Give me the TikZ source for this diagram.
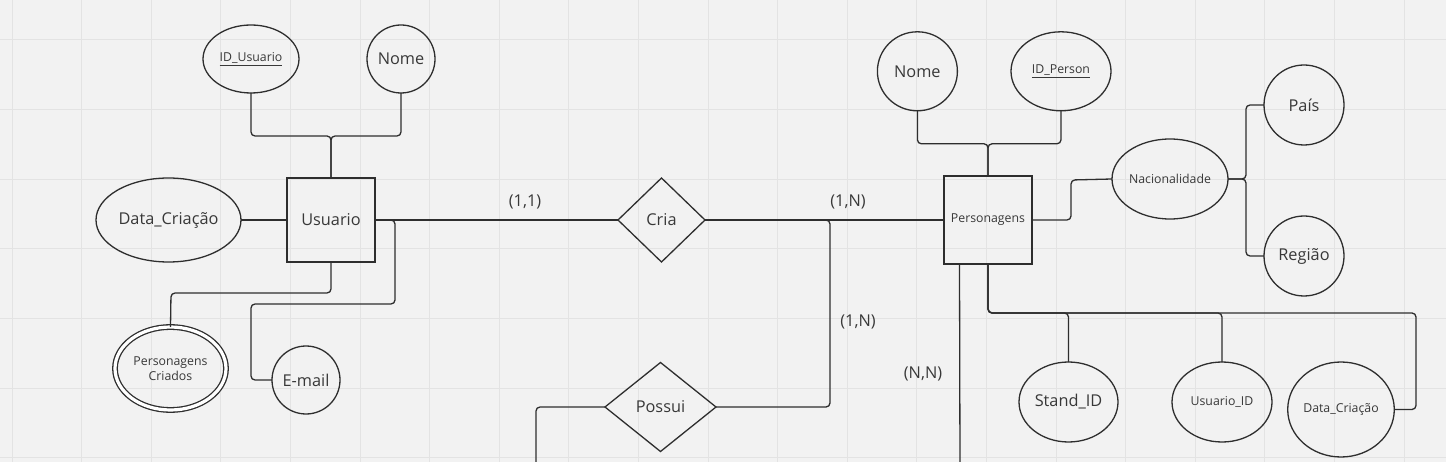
\documentclass[tikz,border=0pt]{standalone}
\usepackage{fontspec}
\setmainfont{Open Sans}
\usetikzlibrary{shapes.geometric,calc}
\definecolor{bg}{HTML}{F2F2F2}
\definecolor{gridc}{HTML}{E3E3E3}
\definecolor{lc}{HTML}{2E2E2E}
\definecolor{tc}{HTML}{383838}
\tikzset{
  base/.style={draw=lc, line width=1.3pt, inner sep=0pt, outer sep=0pt, text=tc, align=center},
  big/.style={font=\fontsize{16.3}{19}\selectfont},
  small/.style={font=\fontsize{12.3}{15}\selectfont},
  ent/.style={base, rectangle},
  attr/.style={base, ellipse},
  rel/.style={base, diamond},
  conn/.style={draw=lc, line width=1.3pt, rounded corners=4pt},
  card/.style={text=tc, font=\fontsize{16.3}{19}\selectfont, inner sep=0pt},
}
\begin{document}
\begin{tikzpicture}[x=1pt,y=-1pt]
\fill[bg] (0,0) rectangle (1446,462);
\useasboundingbox (0,0) rectangle (1446,462);
\begin{scope}
\clip (0,0) rectangle (1446,462);
\foreach \i in {0,...,20} {\draw[gridc, line width=1pt] ({12+69.6*\i},0) -- ({12+69.6*\i},462);}
\foreach \j in {0,...,6} {\draw[gridc, line width=1pt] (0,{40+69.6*\j}) -- (1446,{40+69.6*\j});}
\end{scope}

% Usuario side
\node[attr, small, minimum width=96, minimum height=68] (idu) at (251,59) {\underline{ID\_Usuario}};
\node[attr, big, minimum width=68, minimum height=68] (nome1) at (401,59) {Nome};
\node[ent, big, minimum width=88, minimum height=84] (usu) at (331,220) {Usuario};
\node[attr, big, minimum width=145, minimum height=84] (dc1) at (168.5,220) {Data\_Criação};
\node[attr, small, double, double distance=3.2pt, minimum width=111, minimum height=83] (pc) at (170.5,368.5) {Personagens\\Criados};
\node[attr, big, minimum width=68, minimum height=68] (email) at (306,380) {E-mail};

% relationships
\node[rel, big, minimum width=87, minimum height=84] (cria) at (661.5,220) {Cria};
\node[rel, big, minimum width=111, minimum height=89] (poss) at (660.5,407) {Possui};

% Personagens side
\node[attr, big, minimum width=80, minimum height=79] (nome2) at (917.4,71.3) {Nome};
\node[attr, small, minimum width=100, minimum height=79] (idp) at (1061,71.3) {\underline{ID\_Person}};
\node[ent, small, minimum width=88, minimum height=88] (pers) at (988,220) {Personagens};
\node[attr, small, minimum width=116, minimum height=80] (nac) at (1170,179) {Nacionalidade};
\node[attr, big, minimum width=80, minimum height=80] (pais) at (1304,105) {País};
\node[attr, big, minimum width=80, minimum height=80] (regiao) at (1304,256) {Região};
\node[attr, big, minimum width=99, minimum height=80] (stand) at (1068.5,402) {Stand\_ID};
\node[attr, small, minimum width=100, minimum height=80] (usuid) at (1222,402) {Usuario\_ID};
\node[attr, small, minimum width=106, minimum height=95] (dc2) at (1341,409.5) {Data\_Criação};

% free ends
\coordinate (possend) at (536,470);
\coordinate (persend) at (960,470);

% cardinalities
\node[card] (c11) at (525,202) {(1,1)};
\node[card] (c1n) at (848,202) {(1,N)};
\node[card] (c1nb) at (858,322) {(1,N)};
\node[card] (cnn) at (923,374) {(N,N)};

% connectors - Usuario
\draw[conn] (idu.south) -- ++(0,43) -| (usu.north);
\draw[conn] (nome1.south) -- ++(0,43) -| (usu.north);
\draw[conn] (dc1.east) -- (usu.west);
\draw[conn] (usu.east) -- (cria.west);
\draw[conn] (usu.east) -- (395,220) -- (395,304) -- (251,304) -- (251,380) -- (email.west);
\draw[conn] (usu.south) -- (331,293) -- (171,293) -- (pc.north);

% connectors - relationships
\draw[conn] (cria.east) -- (pers.west);
\draw[conn] (cria.east) -- (830,220) -- (830,407) -- (poss.east);
\draw[conn] (poss.west) -- (536,407) -- (possend);
\draw[conn] ($(pers.south west)+(15.5,0)$) -- (persend);

% connectors - Personagens
\draw[conn] (nome2.south) -- ++(0,33) -| (pers.north);
\draw[conn] (idp.south) -- ++(0,33) -| (pers.north);
\draw[conn] (pers.east) -- (1071,220) -- (1071,180) -- (nac.west);
\draw[conn] (nac.east) -- (1246,179) -- (1246,105) -- (pais.west);
\draw[conn] (nac.east) -- (1246,179) -- (1246,256) -- (regiao.west);
\draw[conn] (pers.south) -- (988,313) -- (1068.5,313) -- (stand.north);
\draw[conn] (pers.south) -- (988,313) -- (1222,313) -- (usuid.north);
\draw[conn] (pers.south) -- (988,313) -- (1416,313) -- (1416,409.5) -- (dc2.east);
\end{tikzpicture}
\end{document}
